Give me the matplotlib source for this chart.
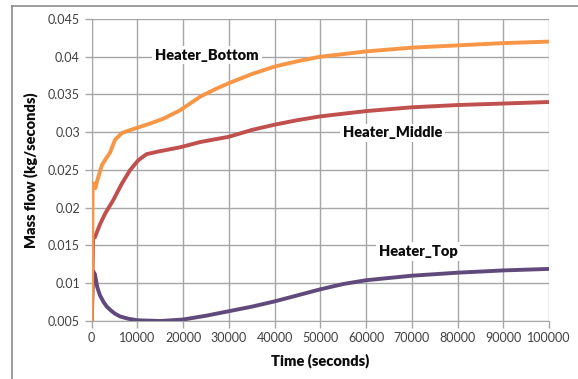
import matplotlib

matplotlib.use("Agg")
import matplotlib.pyplot as plt
from matplotlib.lines import Line2D

plt.rcParams["font.family"] = ["Lato", "DejaVu Sans"]

# readings
t_bottom = [0, 200, 500, 800, 1200, 2200, 3000, 4000, 5100, 6600, 8000, 10000, 13000,
            15700, 19300, 23700, 27000, 30000, 35000, 40000, 45000, 50000, 60000, 70000,
            80000, 90000, 100000]
bottom = [0.005, 0.0232, 0.0232, 0.0226, 0.0236, 0.0256, 0.0264, 0.0273, 0.029, 0.0299,
          0.0302, 0.0306, 0.0312, 0.0318, 0.0329, 0.0347, 0.0357, 0.0365, 0.0377, 0.0387,
          0.0394, 0.0400, 0.0407, 0.0412, 0.0415, 0.0418, 0.0420]

t_middle = [0, 300, 700, 1800, 3000, 4700, 6500, 8400, 10200, 12000, 15000, 19300, 23700,
            30000, 35000, 40000, 45000, 50000, 60000, 70000, 80000, 90000, 100000]
middle = [0.005, 0.016, 0.0161, 0.0178, 0.0193, 0.021, 0.0231, 0.025, 0.0263, 0.0271,
          0.0275, 0.028, 0.0287, 0.0294, 0.0303, 0.031, 0.0316, 0.0321, 0.0328, 0.0333,
          0.0336, 0.0338, 0.034]

t_top = [0, 300, 700, 1200, 1800, 2600, 3300, 4000, 5000, 6200, 8000, 10000, 15000, 20000,
         25000, 30000, 35000, 40000, 45000, 50000, 55000, 60000, 65000, 70000, 80000,
         90000, 100000]
top = [0.005, 0.0116, 0.0112, 0.0095, 0.0084, 0.0075, 0.0069, 0.0065, 0.0060, 0.0056,
       0.0053, 0.0051, 0.0050, 0.0052, 0.0057, 0.0063, 0.0069, 0.0076, 0.0084, 0.0092,
       0.0099, 0.0104, 0.0107, 0.0110, 0.0114, 0.0117, 0.0119]

series_labels = ["Heater_Bottom", "Heater_Middle", "Heater_Top"]
label_pos = [(25200, 0.0402), (65700, 0.0299), (71400, 0.0142)]

fig = plt.figure(figsize=(5.78, 3.79), dpi=100)
ax = fig.add_axes([0.1587, 0.153, 0.7913, 0.797])

line_kw = dict(lw=2.8, solid_joinstyle="round", solid_capstyle="butt")
ax.plot(t_top, top, color="#604a7b", zorder=3, **line_kw)
ax.plot(t_middle, middle, color="#c0504d", zorder=3, **line_kw)
ax.plot(t_bottom, bottom, color="#f79646", zorder=4, **line_kw)

ax.set_xlim(0, 100000)
ax.set_ylim(0.005, 0.045)
ax.set_xticks(range(0, 100001, 10000))
ax.set_yticks([0.005, 0.01, 0.015, 0.02, 0.025, 0.03, 0.035, 0.04, 0.045])
ax.set_yticklabels(["0.005", "0.01", "0.015", "0.02", "0.025", "0.03", "0.035", "0.04", "0.045"])
ax.grid(True, color="#a6a6a6", lw=1.0)
ax.set_axisbelow(True)
for side in ["top", "right"]:
    ax.spines[side].set_visible(False)
for side in ["left", "bottom"]:
    ax.spines[side].set_color("#a6a6a6")
ax.tick_params(axis="both", colors="#a6a6a6", labelcolor="#404040", labelsize=9,
               length=5, width=1.0)
ax.tick_params(axis="x", pad=3)

for name, (x, y) in zip(series_labels, label_pos):
    ax.text(x, y, name, ha="center", va="center", fontsize=10.5, fontweight="heavy",
            color="#0d0d0d", zorder=5,
            bbox=dict(facecolor="white", edgecolor="none", pad=2))

ax.set_xlabel("Time (seconds)", fontsize=10.5, fontweight="heavy", color="#0d0d0d",
              labelpad=7)
ax.set_ylabel("Mass flow (kg/seconds)", fontsize=10.5, fontweight="heavy", color="#0d0d0d",
              labelpad=7)

# outer chart border (only top and left edges visible)
fig.add_artist(Line2D([12 / 578, 1], [1 - 6 / 379, 1 - 6 / 379],
                      transform=fig.transFigure, color="#8c8c8c", lw=1.2))
fig.add_artist(Line2D([12 / 578, 12 / 578], [0, 1 - 6 / 379],
                      transform=fig.transFigure, color="#8c8c8c", lw=1.2))

fig.savefig("out.png", dpi=100)
